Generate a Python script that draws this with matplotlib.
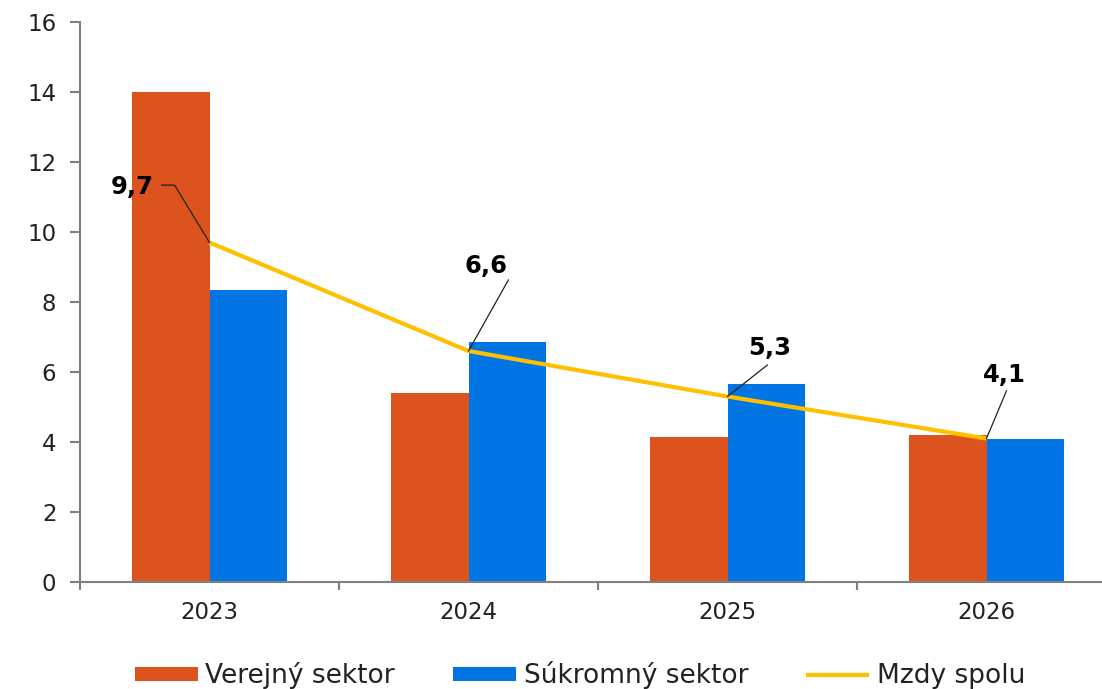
import matplotlib
matplotlib.use("Agg")
import matplotlib.pyplot as plt
import numpy as np

roky = ["2023", "2024", "2025", "2026"]
verejny = [14.0, 5.4, 4.15, 4.2]
sukromny = [8.35, 6.85, 5.65, 4.1]
mzdy = [9.7, 6.6, 5.3, 4.1]
mzdy_labels = ["9,7", "6,6", "5,3", "4,1"]

# label positions (data coords) and leader line paths
label_pos = [(-0.297, 11.29), (1.069, 9.03), (2.162, 6.69), (3.069, 5.91)]
leader_start = [[(-0.185, 11.34), (-0.135, 11.34)], [(1.154, 8.63)], [(2.154, 6.2)], [(3.077, 5.46)]]

c_ver = "#DC531D"
c_suk = "#0075E3"
c_mzdy = "#FFC000"
grey = "#808080"

plt.rcParams['font.family'] = ['DejaVu Sans']

fig = plt.figure(figsize=(11.02, 6.89), dpi=100)
ax = fig.add_axes([80 / 1102, 107 / 689, 1036 / 1102, 560 / 689])

x = np.arange(len(roky))
w = 0.3
b1 = ax.bar(x - w / 2, verejny, w, color=c_ver, label="Verejný sektor", zorder=2)
b2 = ax.bar(x + w / 2, sukromny, w, color=c_suk, label="Súkromný sektor", zorder=2)
l1, = ax.plot(x, mzdy, color=c_mzdy, lw=3, label="Mzdy spolu", zorder=3, solid_capstyle='butt')

for i in range(len(roky)):
    pts = leader_start[i] + [(x[i], mzdy[i])]
    ax.plot([p[0] for p in pts], [p[1] for p in pts], color="#222222", lw=0.9, zorder=4)
    ax.text(label_pos[i][0], label_pos[i][1], mzdy_labels[i], ha='center', va='center',
            fontsize=17.5, fontweight='bold', color='black', zorder=5)

ax.set_xlim(-0.5, 3.5)
ax.set_ylim(0, 16)
ax.set_yticks(np.arange(0, 17, 2))
ax.set_xticks(np.arange(-0.5, 4, 1))
ax.set_xticklabels([])
ax.set_xticks(x, minor=True)
ax.set_xticklabels(roky, minor=True)

ax.tick_params(axis='y', length=7, width=1.5, color=grey, labelsize=16.5, labelcolor="#222222", pad=10)
ax.tick_params(axis='x', which='major', length=6, width=1.5, color=grey)
ax.tick_params(axis='x', which='minor', length=0, labelsize=16.5, labelcolor="#222222", pad=14)

for s in ['top', 'right']:
    ax.spines[s].set_visible(False)
for s in ['left', 'bottom']:
    ax.spines[s].set_color(grey)
    ax.spines[s].set_linewidth(1.5)

fig.legend([b1, b2, l1], ["Verejný sektor", "Súkromný sektor", "Mzdy spolu"],
           loc='center', bbox_to_anchor=(580 / 1102, 1 - 675 / 689), ncol=3, frameon=False,
           fontsize=19, handlelength=2.4, handleheight=0.45, handletextpad=0.27,
           columnspacing=2.2, labelcolor="#222222", borderpad=0.1)

fig.savefig("out.png", dpi=100)
